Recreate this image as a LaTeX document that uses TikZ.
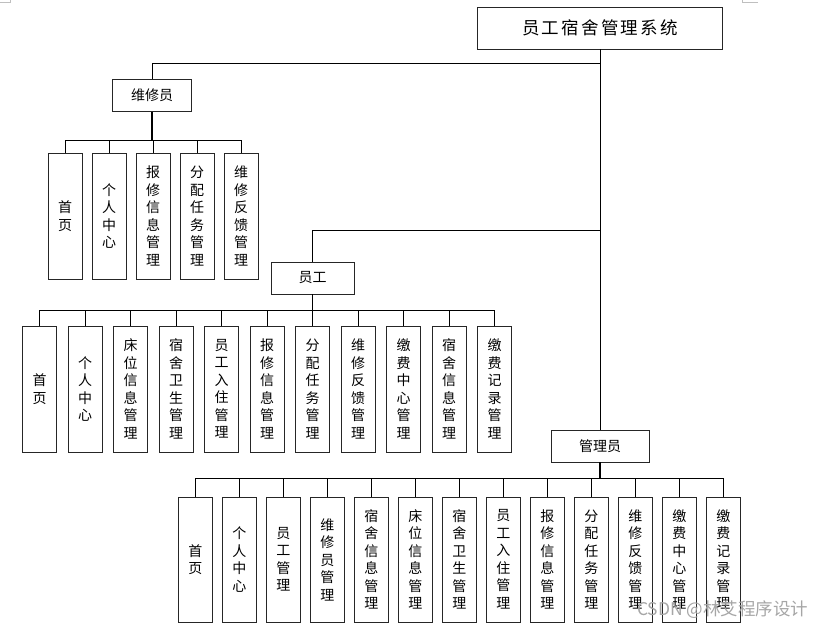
\documentclass[tikz,border=0pt]{standalone}
\usepackage{fontspec}
\setmainfont{Noto Sans CJK SC}
\newfontfamily\titlefont[LetterSpace=13]{Noto Sans CJK SC}
\tikzset{
	box/.style={draw=black!85, line width=0.8pt, fill=white, inner sep=0pt, font=\fontsize{14}{17.5}\selectfont},
	role/.style={box, minimum height=32},
	leaf/.style={box, minimum width=34, minimum height=126, align=center},
	link/.style={line width=0.8pt},
	trunk/.style={line width=1.4pt}
}

\begin{document}
\begin{tikzpicture}[x=1pt, y=-1pt]
		\useasboundingbox(0, 0)rectangle(826, 631);
		\draw[gray!50, line width=0.6pt](0, 2)--(10, 2)--(10, 0);
		\draw[gray!50, line width=0.6pt](758, 2)--(742, 2)--(742, 0);
		% roles
		\node[box, minimum width=245, minimum height=42, font=\titlefont\fontsize{17.5}{20}\selectfont](sys)at(600, 28){员工宿舍管理系统};
		\node[role, minimum width=79](wxy)at(152, 95.5){维修员};
		\node[role, minimum width=83](yg)at(312.5, 278){员工};
		\node[role, minimum width=98](gly)at(600, 446){管理员};
		\coordinate(j1)at(600, 63);
		\coordinate(j2)at(600, 230);
		\draw[link](sys.south)--(gly.north);
		\draw[link](wxy.north)|-(j1);
		\draw[link](yg.north)|-(j2);
		% buses
		\coordinate(wbus)at(152, 140);
		\coordinate(ybus)at(312.5, 310);
		\coordinate(gbus)at(600, 478);
		\draw[trunk](wxy.south)--(wbus);
		\draw[trunk](yg.south)--(ybus);
		\draw[trunk](gly.south)--(gbus);
		% 维修员
		\foreach \t [count=\i from 0] in {首\\页, 个\\人\\中\\心, 报\\修\\信\\息\\管\\理, 分\\配\\任\\务\\管\\理, 维\\修\\反\\馈\\管\\理}{
			\node[leaf](w\i)at(65+44*\i, 216){\t};
			\draw[link](w\i.north)|-(wbus);
		}
		% 员工
		\foreach \t [count=\i from 0] in {首\\页, 个\\人\\中\\心, 床\\位\\信\\息\\管\\理, 宿\\舍\\卫\\生\\管\\理, 员\\工\\入\\住\\管\\理, 报\\修\\信\\息\\管\\理, 分\\配\\任\\务\\管\\理, 维\\修\\反\\馈\\管\\理, 缴\\费\\中\\心\\管\\理, 宿\\舍\\信\\息\\管\\理, 缴\\费\\记\\录\\管\\理}{
			\node[leaf](y\i)at(39.5+45.5*\i, 389){\t};
			\draw[link](y\i.north)|-(ybus);
		}
		% 管理员
		\foreach \t [count=\i from 0] in {首\\页, 个\\人\\中\\心, 员\\工\\管\\理, 维\\修\\员\\管\\理, 宿\\舍\\信\\息\\管\\理, 床\\位\\信\\息\\管\\理, 宿\\舍\\卫\\生\\管\\理, 员\\工\\入\\住\\管\\理, 报\\修\\信\\息\\管\\理, 分\\配\\任\\务\\管\\理, 维\\修\\反\\馈\\管\\理, 缴\\费\\中\\心\\管\\理, 缴\\费\\记\\录\\管\\理}{
			\node[leaf, minimum height=125](g\i)at(195.3+44*\i, 559.5){\t};
			\draw[link](g\i.north)|-(gbus);
		}
		\node[anchor=east, text=gray!70, font=\fontsize{17.5}{20}\selectfont](mark)at(812, 610){CSDN @林艾程序设计};
	\end{tikzpicture}
\end{document}
